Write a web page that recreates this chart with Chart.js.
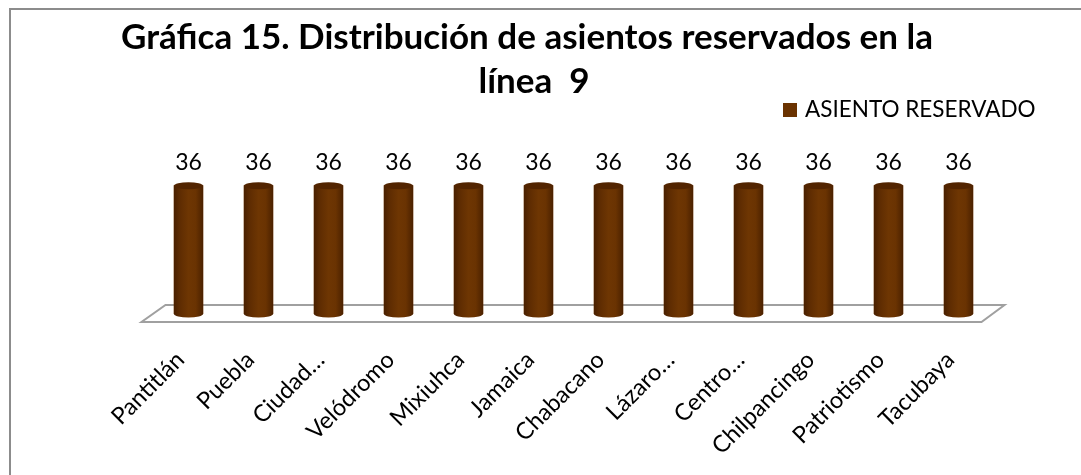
<!DOCTYPE html>
<html>
<head>
<meta charset="utf-8">
<script src="https://cdn.jsdelivr.net/npm/chart.js@4.4.1/dist/chart.umd.min.js"></script>
<style>
  html, body { margin: 0; padding: 0; background: #fff; overflow: hidden; }
  #wrap { position: absolute; left: 0; top: 0; width: 1081px; height: 475px; }
  #frame { position: absolute; left: 9px; top: 8px; width: 2000px; height: 2000px; border: 2px solid #8c8c8c; pointer-events: none; }
</style>
</head>
<body>
<div id="wrap"><canvas id="chart" width="1081" height="475"></canvas></div>
<div id="frame"></div>
<script>
const estaciones = ["Pantitlán", "Puebla", "Ciudad…", "Velódromo", "Mixiuhca", "Jamaica", "Chabacano", "Lázaro…", "Centro…", "Chilpancingo", "Patriotismo", "Tacubaya"];
const asientos = [36, 36, 36, 36, 36, 36, 36, 36, 36, 36, 36, 36];
const serie = "ASIENTO RESERVADO";
const titulo = ["Gráfica 15. Distribución de asientos reservados en la", "línea  9"];

const cafe = "#6b3300";
const fuente = "Lato, 'Open Sans', sans-serif";

// piso, cilindros, etiquetas, titulo y leyenda
const estilo3d = {
  id: "estilo3d",
  beforeDatasetsDraw(chart) {
    const c = chart.ctx, a = chart.chartArea, b = chart.scales.y.getPixelForValue(0);
    c.save();
    c.beginPath();
    c.moveTo(a.left - 12, b + 8);
    c.lineTo(a.right - 12, b + 8);
    c.lineTo(a.right + 11, b - 9);
    c.lineTo(a.left + 12, b - 9);
    c.closePath();
    c.fillStyle = "#ffffff";
    c.fill();
    c.lineWidth = 2;
    c.strokeStyle = "#a0a0a0";
    c.stroke();
    c.restore();
  },
  afterDatasetsDraw(chart) {
    const c = chart.ctx;
    const meta = chart.getDatasetMeta(0);
    c.save();
    meta.data.forEach((bar, i) => {
      const p = bar.getProps(["x", "y", "base", "width"], true);
      const l = p.x - p.width / 2, r = p.x + p.width / 2, rx = p.width / 2, ry = 3.5;
      const g = c.createLinearGradient(l, 0, r, 0);
      g.addColorStop(0, "#4a2000");
      g.addColorStop(0.2, "#5e2c02");
      g.addColorStop(0.5, "#6e3603");
      g.addColorStop(0.75, "#6a3302");
      g.addColorStop(1, "#4b2100");
      c.beginPath();
      c.moveTo(l, p.y);
      c.lineTo(l, p.base);
      c.ellipse(p.x, p.base, rx, ry, 0, Math.PI, 0, true);
      c.lineTo(r, p.y);
      c.closePath();
      c.fillStyle = g;
      c.fill();
      c.beginPath();
      c.ellipse(p.x, p.y, rx, ry, 0, 0, Math.PI * 2);
      c.fillStyle = "#522400";
      c.fill();
      c.fillStyle = "#000";
      c.font = "23px " + fuente;
      c.textAlign = "center";
      c.textBaseline = "middle";
      c.fillText(String(asientos[i]), p.x, p.y - 23);
    });
    c.restore();
  },
  afterDraw(chart) {
    const c = chart.ctx;
    c.save();
    c.fillStyle = "#000";
    c.textAlign = "center";
    c.textBaseline = "middle";
    c.font = "bold 35px " + fuente;
    c.fillText(titulo[0], 527, 38);
    c.fillText(titulo[1], 534, 82);
    c.fillStyle = cafe;
    c.fillRect(783, 103, 14, 14);
    c.fillStyle = "#000";
    c.textAlign = "left";
    c.font = "22.5px " + fuente;
    c.fillText(serie, 805, 110);
    c.restore();
  }
};

new Chart(document.getElementById("chart"), {
  type: "bar",
  data: {
    labels: estaciones,
    datasets: [{
      label: serie,
      data: asientos,
      backgroundColor: cafe,
      barThickness: 29
    }]
  },
  options: {
    responsive: false,
    animation: false,
    layout: { padding: { top: 150, left: 153.5, right: 87.5, bottom: 0 } },
    plugins: {
      legend: { display: false },
      title: { display: false },
      tooltip: { enabled: false }
    },
    scales: {
      x: {
        grid: { display: false, drawTicks: false },
        border: { display: false },
        afterFit(scale) { scale.height = 161; },
        ticks: {
          color: "#000",
          font: { family: fuente, size: 23.5 },
          minRotation: 45,
          maxRotation: 45,
          autoSkip: false,
          padding: 32,
          labelOffset: -8
        }
      },
      y: {
        display: false,
        min: 0,
        max: 46
      }
    }
  },
  plugins: [estilo3d]
});
</script>
</body>
</html>
